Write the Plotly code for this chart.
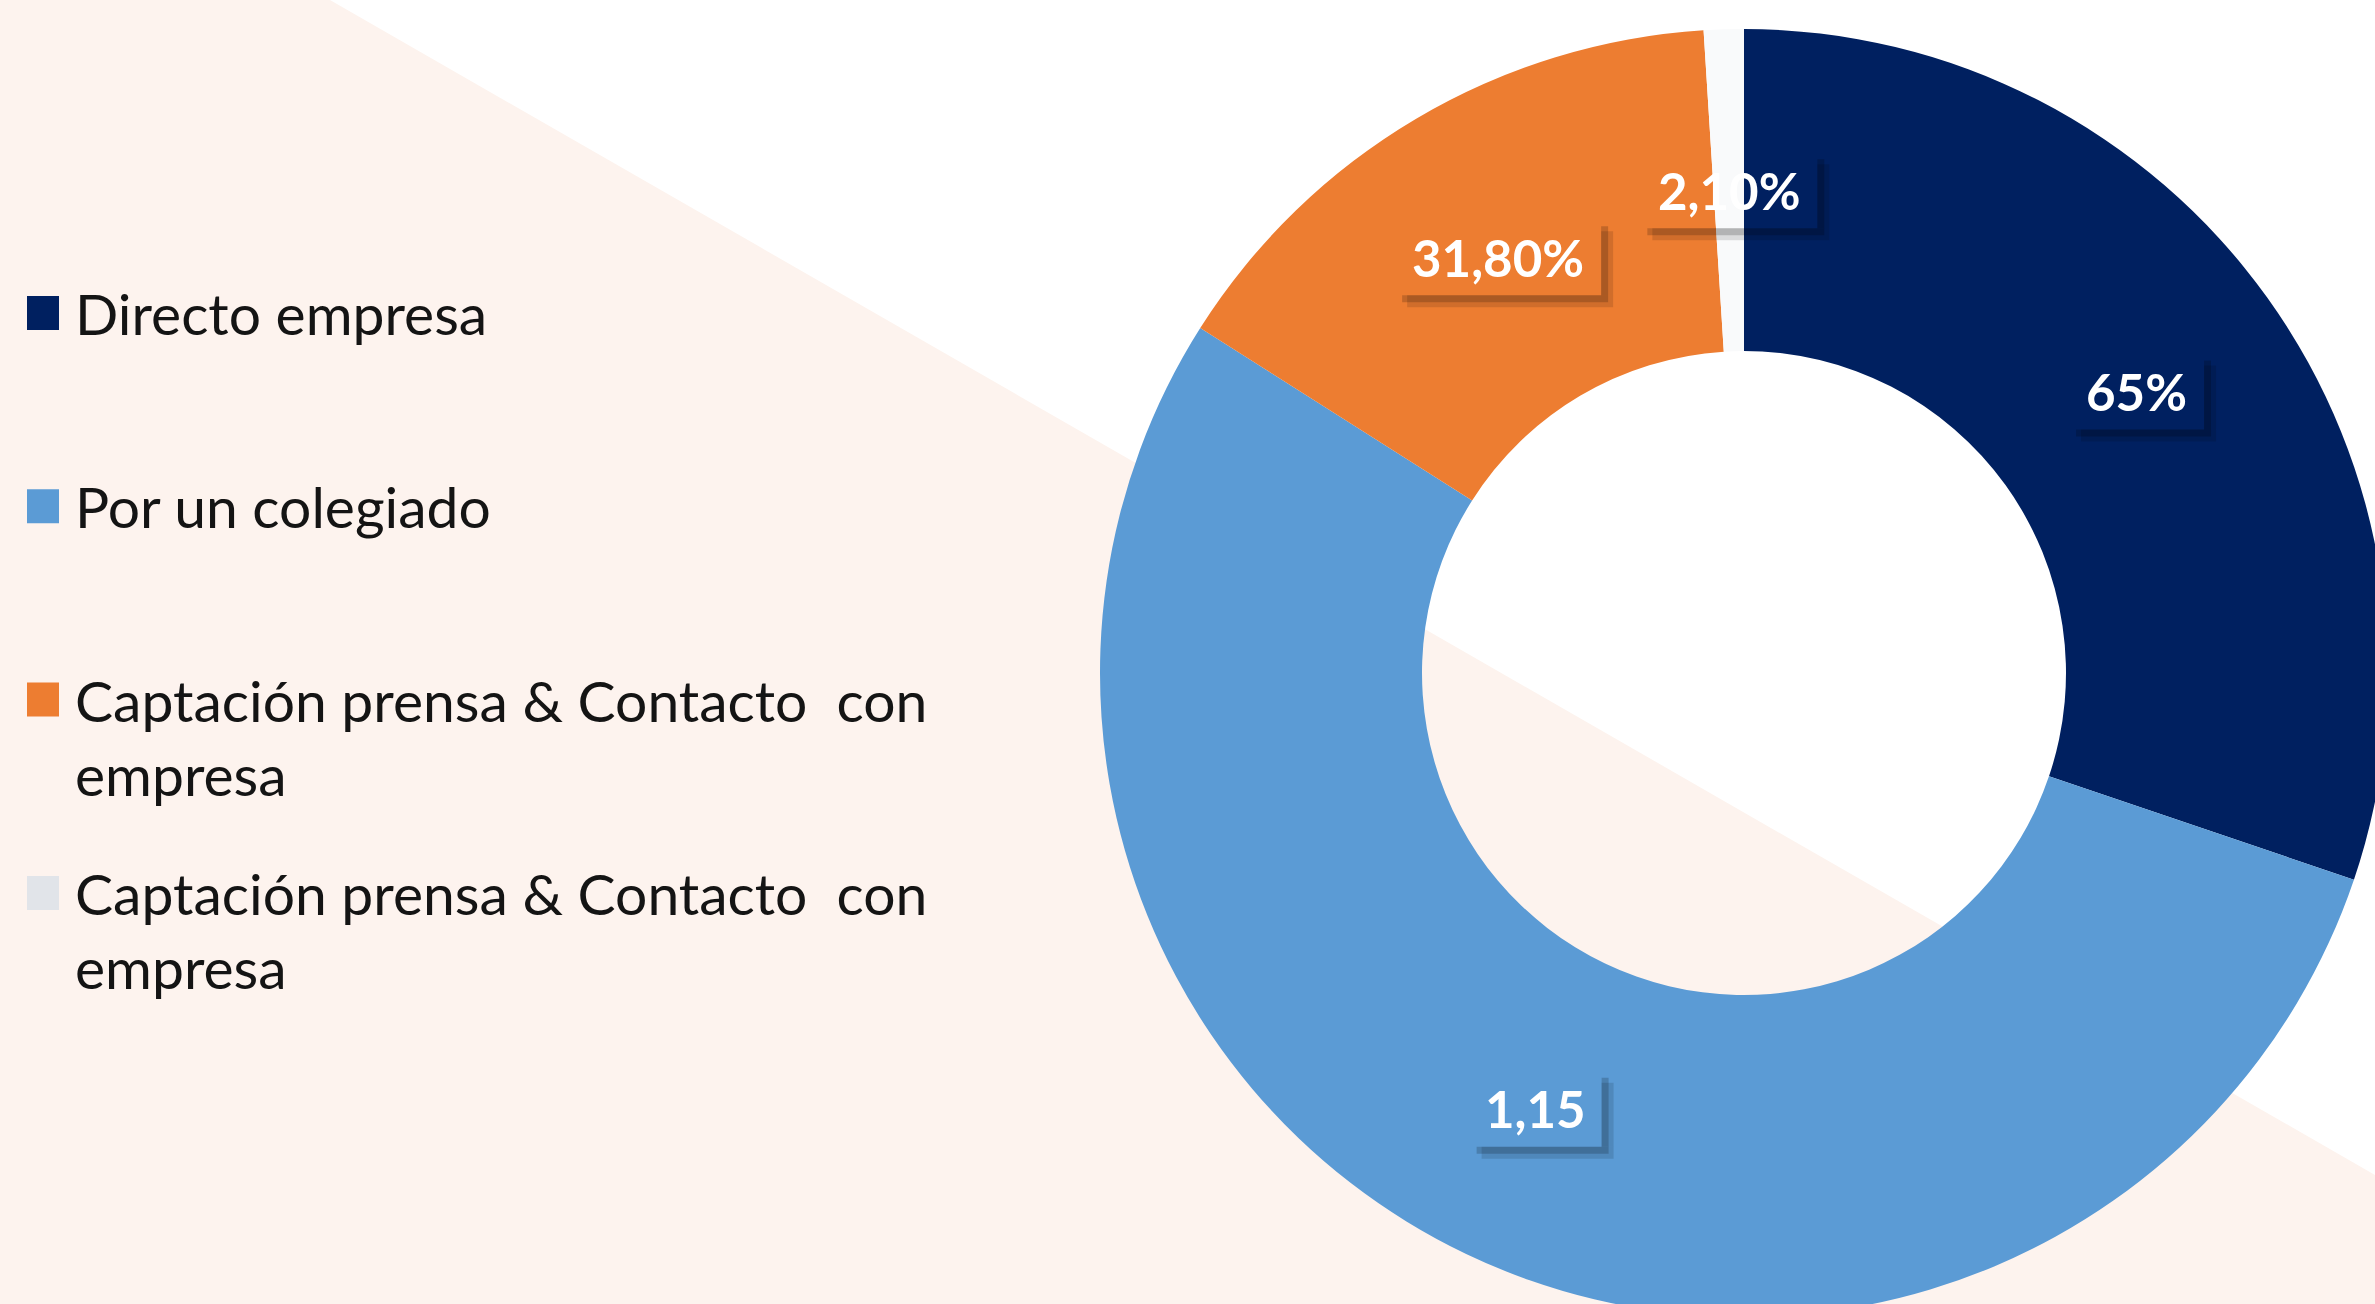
import math
import plotly.graph_objects as go

# ---------------- data ----------------
categories = [
    "Directo empresa",
    "Por un colegiado",
    "Captación prensa & Contacto\u00a0 con<br>empresa",
    "Captación prensa & Contacto\u00a0 con<br>empresa",
]
values = [30.2, 53.8, 15.0, 1.0]
label_texts = ["65%", "1,15", "31,80%", "2,10%"]
slice_colors = ["#002060", "#5B9BD5", "#ED7D31", "#F9FAFB"]
swatch_colors = ["#002060", "#5B9BD5", "#ED7D31", "#E1E4E9"]

# ---------------- layout constants (px) ----------------
# figure slightly larger than the window so the ring can be cropped at the
# right and bottom edges like in the reference
W, H = 2392, 1320
CX, CY, R = 1744, 673, 644
HOLE = 0.5
PEACH = "#FDF3EE"

def px_x(x):
    return x / W

def px_y(y):
    return 1 - y / H

fig = go.Figure()

fig.add_trace(go.Pie(
    labels=[str(i) for i in range(len(values))],
    values=values,
    hovertext=[c.replace("<br>", " ") for c in categories],
    hoverinfo="text+percent",
    marker=dict(colors=slice_colors, line=dict(width=0)),
    hole=HOLE,
    sort=False,
    direction="clockwise",
    rotation=0,
    textinfo="none",
    domain=dict(x=[px_x(CX - R), px_x(CX + R)], y=[px_y(CY + R), px_y(CY - R)]),
    showlegend=False,
))

shapes = []
# background peach region below the diagonal
slope = 1175 / (2375 - 330)
shapes.append(dict(
    type="path", xref="paper", yref="paper", layer="below",
    path=f"M 0,1 L {px_x(330)},1 L 1,{px_y(slope * (W - 330))} L 1,0 L 0,0 Z",
    fillcolor=PEACH, line=dict(width=0),
))

annotations = []

# data labels, computed from values (centroid of each slice at mid radius)
total = sum(values)
cum = 0.0
rm = R * (1 + HOLE) / 2
for v, txt in zip(values, label_texts):
    mid = (cum + v / 2) / total * 2 * math.pi
    cum += v
    lx = CX + rm * math.sin(mid)
    ly = CY - rm * math.cos(mid)
    bw = 32 + sum(29 if ch.isdigit() else (13 if ch == "," else 45) for ch in txt)
    bh = 76
    xa, ya = px_x(lx), px_y(ly)
    # soft shadow strips (bottom and right), two layers for a blurred look
    for s, a in ((12, 0.12), (7, 0.18)):
        shapes.append(dict(
            type="rect", xref="paper", yref="paper", layer="above",
            xsizemode="pixel", ysizemode="pixel", xanchor=xa, yanchor=ya,
            x0=-bw / 2 + s, x1=bw / 2 + s, y0=-bh / 2 - s, y1=-bh / 2,
            fillcolor=f"rgba(0,0,0,{a})", line=dict(width=0),
        ))
        shapes.append(dict(
            type="rect", xref="paper", yref="paper", layer="above",
            xsizemode="pixel", ysizemode="pixel", xanchor=xa, yanchor=ya,
            x0=bw / 2, x1=bw / 2 + s, y0=-bh / 2, y1=bh / 2 - s,
            fillcolor=f"rgba(0,0,0,{a})", line=dict(width=0),
        ))
    annotations.append(dict(
        x=xa, y=ya, xref="paper", yref="paper", showarrow=False,
        text=f"<b>{txt}</b>", xanchor="center", yanchor="middle",
        font=dict(family="Lato", size=51, color="white"),
    ))

# legend (custom, left side)
LEG_X_SW, LEG_SW = 27, 32
LEG_X_TXT = 73
LEG_Y0, LEG_DY = 313, 193.3
LEG_FS = 57
for i, (cat, sc) in enumerate(zip(categories, swatch_colors)):
    yc = LEG_Y0 + i * LEG_DY
    nlines = cat.count("<br>") + 1
    shapes.append(dict(
        type="rect", xref="paper", yref="paper", layer="above",
        x0=px_x(LEG_X_SW), x1=px_x(LEG_X_SW + LEG_SW),
        y0=px_y(yc + LEG_SW / 2 + 1), y1=px_y(yc - LEG_SW / 2 - 1),
        fillcolor=sc, line=dict(width=0),
    ))
    annotations.append(dict(
        x=px_x(LEG_X_TXT), y=px_y(yc + (nlines - 1) * LEG_FS * 1.3 / 2),
        xref="paper", yref="paper", showarrow=False,
        text=cat, xanchor="left", yanchor="middle", align="left",
        font=dict(family="Lato", size=LEG_FS, color="#141414"),
    ))

fig.update_layout(
    width=W, height=H,
    margin=dict(l=0, r=0, t=0, b=0),
    paper_bgcolor="white",
    plot_bgcolor="white",
    showlegend=False,
    shapes=shapes,
    annotations=annotations,
)

fig.write_html(
    "out.html",
    config={"displayModeBar": False},
    post_script="document.body.style.margin='0px';"
                "document.body.style.overflow='hidden';"
                "document.documentElement.style.overflow='hidden';",
)
